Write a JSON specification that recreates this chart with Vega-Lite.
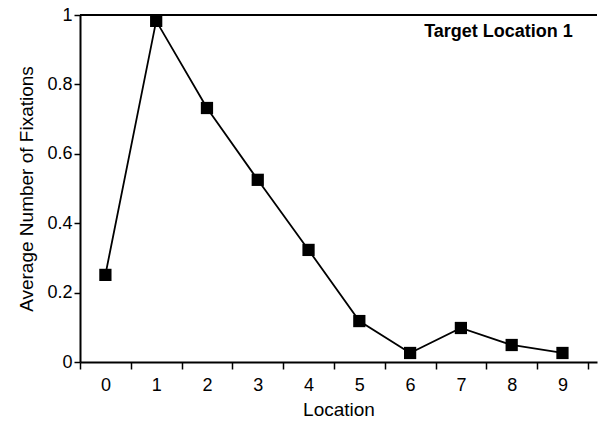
{
  "$schema": "https://vega.github.io/schema/vega-lite/v6.json",
  "width": 517,
  "height": 347,
  "autosize": "none",
  "padding": {"left": 80, "top": 15, "right": 3, "bottom": 62},
  "config": {
    "view": {"stroke": null},
    "font": "Liberation Sans",
    "axis": {"domainColor": "black", "domainWidth": 2, "tickColor": "black", "tickWidth": 1.5, "labelColor": "black", "titleColor": "black", "labelFont": "Liberation Sans", "titleFont": "Liberation Sans", "labelFontSize": 18, "titleFontSize": 19, "titleFontWeight": "normal", "grid": false}
  },
  "datasets": {
    "points": [
      {"location": "0", "fixations": 0.251},
      {"location": "1", "fixations": 0.983},
      {"location": "2", "fixations": 0.732},
      {"location": "3", "fixations": 0.525},
      {"location": "4", "fixations": 0.323},
      {"location": "5", "fixations": 0.118},
      {"location": "6", "fixations": 0.026},
      {"location": "7", "fixations": 0.098},
      {"location": "8", "fixations": 0.049},
      {"location": "9", "fixations": 0.026}
    ],
    "labels": [
      {"label": "Target Location 1", "location": "9", "fixations": 0.95}
    ]
  },
  "layer": [
    {
      "data": {"values": [{"top": 1}]},
      "mark": {"type": "rule", "color": "black", "strokeWidth": 2},
      "encoding": {"y": {"field": "top", "type": "quantitative"}}
    },
    {
      "data": {"name": "points"},
      "mark": {"type": "line", "color": "black", "strokeWidth": 1.8},
      "encoding": {
        "x": {"field": "location", "type": "ordinal", "title": "Location",
              "scale": {"domain": ["0","1","2","3","4","5","6","7","8","9"], "paddingInner": 0, "paddingOuter": 0.09, "align": 0},
              "axis": {"labelAngle": 0, "tickBand": "extent", "tickSize": 7, "labelPadding": 7, "titlePadding": 6}},
        "y": {"field": "fixations", "type": "quantitative", "title": "Average Number of Fixations",
              "scale": {"domain": [0, 1], "nice": false},
              "axis": {"values": [0, 0.1, 0.2, 0.3, 0.4, 0.5, 0.6, 0.7, 0.8, 0.9, 1], "format": "~g",
                       "labelExpr": "round(datum.value*10) % 2 == 1 ? '' : datum.label",
                       "tickSize": {"condition": {"test": "round(datum.value*10) % 2 == 1", "value": 3}, "value": 6},
                       "labelPadding": 2, "titlePadding": 10}}
      }
    },
    {
      "data": {"name": "points"},
      "mark": {"type": "square", "color": "black", "opacity": 1, "filled": true, "size": 150},
      "encoding": {
        "x": {"field": "location", "type": "ordinal"},
        "y": {"field": "fixations", "type": "quantitative"}
      }
    },
    {
      "data": {"name": "labels"},
      "mark": {"type": "text", "font": "Liberation Sans", "fontWeight": "bold", "fontSize": 18, "align": "right", "baseline": "middle", "dx": -15, "color": "black"},
      "encoding": {
        "text": {"field": "label"},
        "x": {"field": "location", "type": "ordinal", "bandPosition": 1},
        "y": {"field": "fixations", "type": "quantitative"}
      }
    }
  ]
}
